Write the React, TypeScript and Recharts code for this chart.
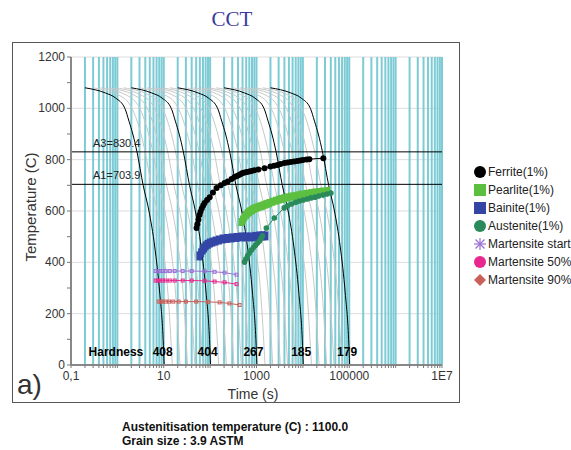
import React from "react";
import { ComposedChart, Line, Scatter, XAxis, YAxis, ReferenceLine } from "recharts";

// cooling curves: temperature levels (C) and the time (s) each curve reaches them
const CURVE_TEMPS = [1080, 1060, 1040, 1000, 950, 900, 830, 700, 600, 460, 280, 100, 0];
const BLACK_TIMES = [
  [0.2, 0.55, 0.92, 1.45, 1.78, 2.15, 2.65, 3.6, 4.8, 6.4, 8.2, 9.7, 10.2],
  [2, 5.5, 9.2, 14.5, 17.8, 21.5, 26.5, 36, 48, 64, 82, 97, 102],
  [20, 55, 92, 145, 178, 215, 265, 360, 480, 640, 820, 970, 1020],
  [200, 550, 920, 1450, 1780, 2150, 2650, 3600, 4800, 6400, 8200, 9700, 10200],
  [2000, 5500, 9200, 14500, 17800, 21500, 26500, 36000, 48000, 64000, 82000, 97000, 102000],
];

const GRAY_TEMPS = [1080, 1040, 950, 830, 700, 600, 460, 280, 0];
const GRAY_TIMES = [
  [0.3, 1.38, 2.67, 3.98, 5.4, 7.2, 9.6, 12.3, 15.3],
  [0.44, 2.02, 3.92, 5.83, 7.92, 10.6, 14.1, 18, 22.4],
  [0.64, 2.94, 5.7, 8.48, 11.5, 15.4, 20.5, 26.2, 32.6],
  [0.92, 4.23, 8.19, 12.2, 16.6, 22.1, 29.4, 37.7, 46.9],
  [1.36, 6.26, 12.1, 18, 24.5, 32.6, 43.5, 55.8, 69.4],
  [3, 13.8, 26.7, 39.8, 54, 72, 96, 123, 153],
  [4.4, 20.2, 39.2, 58.3, 79.2, 106, 141, 180, 224],
  [6.4, 29.4, 57, 84.8, 115, 154, 205, 262, 326],
  [9.2, 42.3, 81.9, 122, 166, 221, 294, 377, 469],
  [13.6, 62.6, 121, 180, 245, 326, 435, 558, 694],
  [30, 138, 267, 398, 540, 720, 960, 1230, 1530],
  [44, 202, 392, 583, 792, 1060, 1410, 1800, 2240],
  [64, 294, 570, 848, 1150, 1540, 2050, 2620, 3260],
  [92, 423, 819, 1220, 1660, 2210, 2940, 3770, 4690],
  [136, 626, 1210, 1800, 2450, 3260, 4350, 5580, 6940],
  [300, 1380, 2670, 3980, 5400, 7200, 9600, 12300, 15300],
  [440, 2020, 3920, 5830, 7920, 10600, 14100, 18000, 22400],
  [640, 2940, 5700, 8480, 11500, 15400, 20500, 26200, 32600],
  [920, 4230, 8190, 12200, 16600, 22100, 29400, 37700, 46900],
  [1360, 6260, 12100, 18000, 24500, 32600, 43500, 55800, 69400],
];

// transformation start points (1%)
const FERRITE_TIME = [51, 53, 56, 59, 62, 66, 71, 76, 86, 98, 115, 138, 170, 205, 240, 290, 336, 380, 420, 460, 500, 560, 620, 700, 780, 900, 1100, 1490, 2000, 2400, 2830, 3300, 4000, 4700, 5500, 6500, 7620, 8800, 10000, 12000, 13800, 27600];
const FERRITE_TEMP = [534, 548, 566, 584, 597, 610, 621, 631, 643, 654, 672, 690, 700, 709, 715, 725, 732, 736, 740, 744, 748, 750, 752, 754, 756, 759, 762, 767, 773, 776, 779, 783, 787, 789, 791, 793, 795, 797, 799, 801, 802, 806];
const PEARLITE_TIME = [476, 510, 552, 595, 640, 690, 740, 800, 861, 950, 1050, 1160, 1280, 1400, 1550, 1700, 1900, 2200, 2600, 3000, 3450, 4000, 4700, 5500, 6560, 8000, 9500, 12000, 15200, 18000, 22000, 27000, 33600];
const PEARLITE_TEMP = [557, 567, 577, 585, 592, 596, 600, 604, 608, 611, 614, 617, 619, 622, 625, 628, 631, 636, 640, 644, 647, 650, 653, 656, 658, 661, 664, 667, 670, 672, 674, 676, 678];
const BAINITE_TIME = [59, 64, 69, 74, 80, 88, 98, 112, 131, 155, 186, 230, 290, 370, 476, 600, 780, 950, 1160, 1350, 1560];
const BAINITE_TEMP = [425, 437, 448, 456, 464, 470, 475, 479, 483, 487, 491, 493, 495, 497, 499, 499, 499, 501, 503, 503, 503];
const AUSTENITE_TIME = [552, 590, 640, 700, 780, 860, 950, 1050, 1160, 1250, 1340, 1630, 2430, 3950, 4700, 5650, 7000, 8400, 10200, 12400, 15000, 18300, 22000, 27100, 33000, 40200];
const AUSTENITE_TEMP = [401, 413, 425, 436, 448, 458, 467, 475, 483, 493, 503, 534, 573, 612, 620, 627, 634, 639, 643, 647, 651, 654, 658, 662, 666, 670];
const MS_TIME = [6.7, 7.4, 8.2, 9.5, 11, 13.5, 17.2, 25.6, 40, 76, 125, 205, 371];
const MS_TEMP = [366, 366, 366, 366, 366, 366, 366, 366, 366, 365, 363, 360, 352];
const M50_TIME = [6.7, 7.4, 8.2, 9.5, 11, 13.5, 17.2, 25.6, 40, 76, 125, 205, 371];
const M50_TEMP = [329, 329, 329, 329, 329, 329, 329, 329, 329, 328, 325, 322, 315];
const M90_TIME = [7.8, 8.6, 9.5, 11, 13, 16, 21, 30, 50, 90, 160, 260, 431];
const M90_TEMP = [247, 247, 247, 247, 247, 247, 247, 247, 247, 246, 244, 240, 234];

const HARDNESS_TIME = [0.93, 9.5, 88, 860, 9200, 90000];
const HARDNESS_TEXT = ["Hardness", "408", "404", "267", "185", "179"];
const HARDNESS_LEVEL = 52;

const A3 = 830.4;
const A1 = 703.9;

// axes
const X_DECADES = [0.1, 1, 10, 100, 1000, 10000, 100000, 1000000];
const X_STEPS = [1, 2, 3, 4, 5, 6, 7, 8, 9];
const X_MINOR = [...X_DECADES.flatMap((d) => X_STEPS.map((s) => +(d * s).toPrecision(3))), 10000000];
const X_LABEL_AT = [0.1, 10, 1000, 100000, 10000000];
const X_LABELS = ["0,1", "10", "1000", "100000", "1E7"];
const Y_TICKS = [0, 100, 200, 300, 400, 500, 600, 700, 800, 900, 1000, 1100, 1200];
const Y_GRID = [200, 400, 600, 800, 1000, 1200];

const LEGEND = [
  { name: "Ferrite(1%)", color: "#000000", mark: "circle" },
  { name: "Pearlite(1%)", color: "#5cbf40", mark: "square" },
  { name: "Bainite(1%)", color: "#3346a6", mark: "square" },
  { name: "Austenite(1%)", color: "#2a8a5a", mark: "circle" },
  { name: "Martensite start", color: "#9b6fd6", mark: "star" },
  { name: "Martensite 50%", color: "#e8288e", mark: "circle" },
  { name: "Martensite 90%", color: "#c9605a", mark: "diamond" },
];

const pts = (times: number[], temps: number[]) => times.map((t, i) => ({ t, T: temps[i] }));

const font = "Arial, 'Liberation Sans', sans-serif";

const XTick = (props: any) => {
  const { x, y, payload } = props;
  const i = X_LABEL_AT.findIndex((v) => Math.abs(v - payload.value) / v < 1e-6);
  if (i < 0) return <g />;
  return (
    <text x={x} y={y + 10} textAnchor="middle" fontSize={12} fill="#333" fontFamily={font}>
      {X_LABELS[i]}
    </text>
  );
};

const YTick = (props: any) => {
  const { x, y, payload } = props;
  if (payload.value % 200 !== 0) return <g />;
  return (
    <text x={x} y={y + 4} textAnchor="end" fontSize={12} fill="#333" fontFamily={font}>
      {payload.value}
    </text>
  );
};

const lineLabel = (text: string) => (p: any) => (
  <text x={p.viewBox.x + 22} y={p.viewBox.y - 5} fontSize={11} fill="#222" fontFamily={font}>
    {text}
  </text>
);

const circleDot = (r: number, fill: string) => (p: any) => (
  <circle key={p.index} cx={p.cx} cy={p.cy} r={r} fill={fill} />
);
const squareDot = (w: number, h: number, fill: string) => (p: any) => (
  <rect key={p.index} x={p.cx - w / 2} y={p.cy - h / 2} width={w} height={h} fill={fill} />
);
const smallDot = (stroke: string) => (p: any) => (
  <rect key={p.index} x={p.cx - 1.5} y={p.cy - 1.5} width={3} height={3} fill="none" stroke={stroke} strokeWidth={1} />
);

function LegendMark({ mark, color }: { mark: string; color: string }) {
  return (
    <svg width={14} height={14} style={{ display: "block" }}>
      {mark === "circle" && <circle cx={7} cy={7} r={6} fill={color} />}
      {mark === "square" && <rect x={1} y={1} width={12} height={12} fill={color} />}
      {mark === "diamond" && <polygon points="7,1 13,7 7,13 1,7" fill={color} />}
      {mark === "star" && (
        <g stroke={color} strokeWidth={1.2}>
          <line x1={7} y1={1} x2={7} y2={13} />
          <line x1={1} y1={7} x2={13} y2={7} />
          <line x1={2.5} y1={2.5} x2={11.5} y2={11.5} />
          <line x1={11.5} y1={2.5} x2={2.5} y2={11.5} />
        </g>
      )}
    </svg>
  );
}

export default function App() {
  return (
    <div style={{ position: "absolute", left: 0, top: 0, width: 571, height: 450, overflow: "hidden", background: "#fff" }}>
      <div
        style={{ position: "absolute", left: 12, top: 42, width: 448, height: 361, boxSizing: "border-box", border: "1px solid #555" }}
      />
      <div
        style={{ position: "absolute", left: 232, top: 19, transform: "translate(-50%,-50%)", fontFamily: "'Liberation Serif', 'Times New Roman', serif", fontSize: 21, color: "#3a3aa0" }}
      >
        CCT
      </div>
      <div style={{ position: "absolute", left: 0, top: 0 }}>
        <ComposedChart width={571} height={450} margin={{ top: 57, right: 129, bottom: 55, left: 21 }}>
          <XAxis
            type="number"
            dataKey="t"
            scale="log"
            domain={[0.1, 10000000]}
            allowDataOverflow
            ticks={X_MINOR}
            interval={0}
            tick={<XTick />}
            tickSize={3}
            tickLine={{ stroke: "#777" }}
            axisLine={{ stroke: "#888", strokeWidth: 2 }}
            height={30}
          />
          <YAxis
            type="number"
            dataKey="T"
            domain={[0, 1200]}
            allowDataOverflow
            ticks={Y_TICKS}
            interval={0}
            tick={<YTick />}
            tickSize={4}
            tickLine={{ stroke: "#777" }}
            axisLine={{ stroke: "#888", strokeWidth: 2 }}
            width={50}
          />
          {Y_GRID.map((v) => (
            <ReferenceLine key={"g" + v} y={v} stroke="#dcdcdc" strokeWidth={1} />
          ))}
          {X_MINOR.map((v) => (
            <ReferenceLine key={"c" + v} x={v} stroke="#7dcbd5" strokeWidth={2} />
          ))}
          {GRAY_TIMES.map((times, i) => (
            <Line
              key={"gray" + i}
              data={pts(times, GRAY_TEMPS)}
              dataKey="T"
              type="monotone"
              stroke="#c8c8c8"
              strokeWidth={1}
              dot={false}
              isAnimationActive={false}
            />
          ))}
          {BLACK_TIMES.map((times, i) => (
            <Line
              key={"black" + i}
              data={pts(times, CURVE_TEMPS)}
              dataKey="T"
              type="monotone"
              stroke="#000"
              strokeWidth={1}
              dot={false}
              isAnimationActive={false}
            />
          ))}
          <ReferenceLine y={A3} stroke="#000" strokeWidth={1} label={lineLabel("A3=830.4")} />
          <ReferenceLine y={A1} stroke="#000" strokeWidth={1} label={lineLabel("A1=703.9")} />
          <Line data={pts(MS_TIME, MS_TEMP)} dataKey="T" stroke="#9b6fd6" strokeWidth={1} dot={smallDot("#9b6fd6")} isAnimationActive={false} />
          <Line data={pts(M50_TIME, M50_TEMP)} dataKey="T" stroke="#e8288e" strokeWidth={1} dot={smallDot("#e8288e")} isAnimationActive={false} />
          <Line data={pts(M90_TIME, M90_TEMP)} dataKey="T" stroke="#c9605a" strokeWidth={1} dot={smallDot("#c9605a")} isAnimationActive={false} />
          <Line data={pts(BAINITE_TIME, BAINITE_TEMP)} dataKey="T" stroke="#3346a6" strokeWidth={1} dot={squareDot(6, 9, "#3346a6")} isAnimationActive={false} />
          <Line data={pts(PEARLITE_TIME, PEARLITE_TEMP)} dataKey="T" stroke="#5cbf40" strokeWidth={1} dot={squareDot(6, 8, "#5cbf40")} isAnimationActive={false} />
          <Line data={pts(AUSTENITE_TIME, AUSTENITE_TEMP)} dataKey="T" stroke="#2a8a5a" strokeWidth={1} dot={circleDot(2.8, "#2a8a5a")} isAnimationActive={false} />
          <Line data={pts(FERRITE_TIME, FERRITE_TEMP)} dataKey="T" stroke="#000" strokeWidth={1} dot={circleDot(3, "#000")} isAnimationActive={false} />
          <Scatter
            data={HARDNESS_TIME.map((t, i) => ({ t, T: HARDNESS_LEVEL, label: HARDNESS_TEXT[i] }))}
            isAnimationActive={false}
            shape={(p: any) => (
              <text x={p.cx} y={p.cy + 4} textAnchor="middle" fontSize={12} fontWeight="bold" fill="#000" fontFamily={font}>
                {p.payload.label}
              </text>
            )}
          />
        </ComposedChart>
      </div>
      <div
        style={{ position: "absolute", left: 30, top: 207, transform: "translate(-50%,-50%) rotate(-90deg)", whiteSpace: "nowrap", fontFamily: font, fontSize: 15, color: "#333" }}
      >
        Temperature (C)
      </div>
      <div
        style={{ position: "absolute", left: 253, top: 394, transform: "translate(-50%,-50%)", whiteSpace: "nowrap", fontFamily: font, fontSize: 14, color: "#333" }}
      >
        Time (s)
      </div>
      <div style={{ position: "absolute", left: 17, top: 385, transform: "translateY(-50%)", fontFamily: font, fontSize: 28, color: "#333" }}>
        a)
      </div>
      <div style={{ position: "absolute", left: 473, top: 163, fontFamily: font, fontSize: 12, color: "#222" }}>
        {LEGEND.map((it) => (
          <div key={it.name} style={{ display: "flex", alignItems: "center", height: 18, whiteSpace: "nowrap" }}>
            <LegendMark mark={it.mark} color={it.color} />
            <span style={{ marginLeft: 1 }}>{it.name}</span>
          </div>
        ))}
      </div>
      <div style={{ position: "absolute", left: 122, top: 420, fontFamily: font, fontSize: 12, fontWeight: "bold", color: "#111", lineHeight: "14px" }}>
        <div>Austenitisation temperature (C) : 1100.0</div>
        <div>Grain size : 3.9 ASTM</div>
      </div>
    </div>
  );
}
